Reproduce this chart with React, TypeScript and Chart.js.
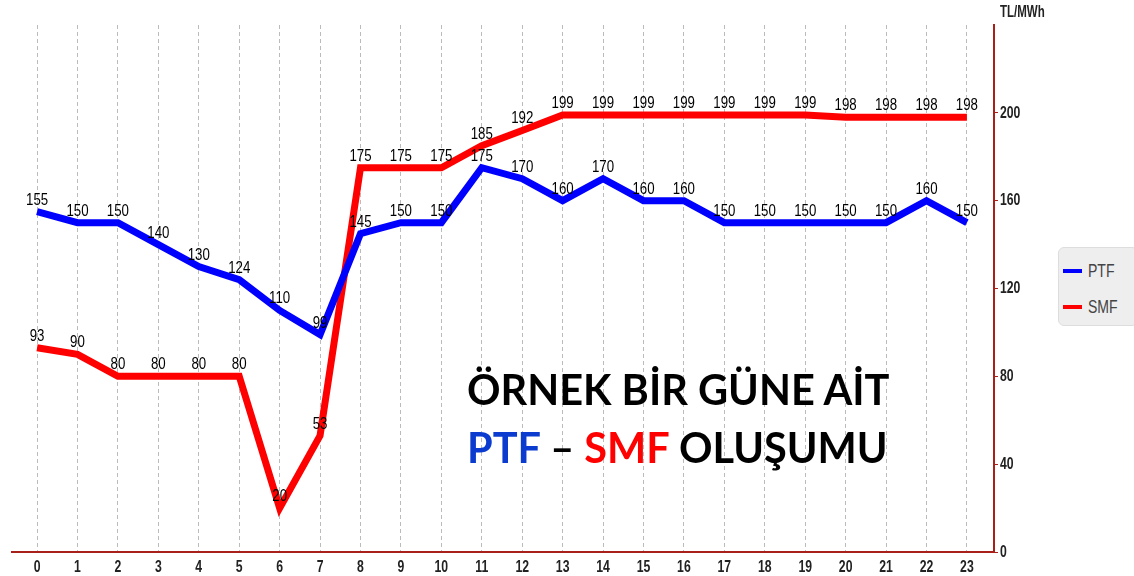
import React, { useEffect, useRef } from "react";
import { Chart, registerables } from "chart.js";

Chart.register(...registerables);

const hours = [0, 1, 2, 3, 4, 5, 6, 7, 8, 9, 10, 11, 12, 13, 14, 15, 16, 17, 18, 19, 20, 21, 22, 23];
const ptf = [155, 150, 150, 140, 130, 124, 110, 99, 145, 150, 150, 175, 170, 160, 170, 160, 160, 150, 150, 150, 150, 150, 160, 150];
const smf = [93, 90, 80, 80, 80, 80, 20, 53, 175, 175, 175, 185, 192, 199, 199, 199, 199, 199, 199, 199, 198, 198, 198, 198];
const yTicks = [0, 40, 80, 120, 160, 200];
const seriesNames = ["PTF", "SMF"];
const seriesColors = ["#0000ff", "#ff0000"];

const SANS = '"Liberation Sans", Arial, sans-serif';
const AXIS_RED = "#a8201a";

function narrowText(ctx: any, text: string, x: number, y: number, sx: number) {
  ctx.save();
  ctx.translate(x, y);
  ctx.scale(sx, 1);
  ctx.fillText(text, 0, 0);
  ctx.restore();
}

const labelPlugin = {
  id: "narrowLabels",
  afterDatasetsDraw(chart: any) {
    const ctx = chart.ctx;
    ctx.save();
    ctx.font = `17px ${SANS}`;
    ctx.fillStyle = "#000";
    ctx.strokeStyle = "#000";
    ctx.textAlign = "center";
    ctx.textBaseline = "alphabetic";
    chart.data.datasets.forEach((ds: any, di: number) => {
      const meta = chart.getDatasetMeta(di);
      meta.data.forEach((el: any, i: number) => {
        const v = ds.data[i].y;
        narrowText(ctx, String(v), el.x, el.y - 7, 0.78);
      });
    });
    ctx.restore();
  },
  afterDraw(chart: any) {
    const ctx = chart.ctx;
    const xs = chart.scales.x;
    const ys = chart.scales.y;
    ctx.save();
    ctx.font = `bold 17px ${SANS}`;
    ctx.fillStyle = "#222";
    ctx.textBaseline = "middle";
    ctx.textAlign = "center";
    hours.forEach((h) => {
      narrowText(ctx, String(h), xs.getPixelForValue(h), chart.chartArea.bottom + 15, 0.72);
    });
    ctx.textAlign = "left";
    yTicks.forEach((v) => {
      narrowText(ctx, String(v), chart.chartArea.right + 6, ys.getPixelForValue(v), 0.72);
    });
    ctx.restore();
  },
};

export default function App() {
  const ref = useRef<HTMLCanvasElement>(null);
  useEffect(() => {
    if (!ref.current) return;
    const chart = new Chart(ref.current, {
      type: "line",
      data: {
        datasets: [ptf, smf].map((arr, k) => ({
          label: seriesNames[k],
          data: hours.map((h, i) => ({ x: h, y: arr[i] })),
          borderColor: seriesColors[k],
          backgroundColor: seriesColors[k],
          borderWidth: 7,
          pointRadius: 0,
          tension: 0,
          fill: false,
        })),
      },
      options: {
        animation: false,
        responsive: false,
        maintainAspectRatio: false,
        layout: { padding: { left: 12, right: 95, top: 25, bottom: 0 } },
        plugins: { legend: { display: false }, tooltip: { enabled: false } },
        scales: {
          x: {
            type: "linear",
            min: -0.62,
            max: 23.67,
            afterBuildTicks: (s: any) => {
              s.ticks = hours.map((h) => ({ value: h }));
            },
            afterFit: (s: any) => {
              s.height = 24;
            },
            ticks: { display: false },
            grid: { color: "#bbbbbb", lineWidth: 1, drawTicks: false },
            border: { color: AXIS_RED, width: 2, dash: [4, 3] },
          },
          y: {
            position: "right",
            min: 0,
            max: 240,
            afterBuildTicks: (s: any) => {
              s.ticks = yTicks.map((v) => ({ value: v }));
            },
            afterFit: (s: any) => {
              s.width = 45;
            },
            ticks: { display: false },
            grid: { drawOnChartArea: false, drawTicks: true, tickLength: 4, tickColor: AXIS_RED, color: AXIS_RED },
            border: { color: AXIS_RED, width: 2 },
          },
        },
      },
      plugins: [labelPlugin],
    } as any);
    return () => chart.destroy();
  }, []);

  const bigText: React.CSSProperties = {
    position: "absolute",
    left: 467,
    fontFamily: "Lato, sans-serif",
    fontWeight: 700,
    fontSize: 41.5,
    lineHeight: "42px",
    whiteSpace: "nowrap",
    color: "#000",
  };

  const narrowSpan: React.CSSProperties = {
    display: "inline-block",
    transformOrigin: "left center",
    whiteSpace: "nowrap",
  };

  return (
    <div style={{ position: "fixed", left: 0, top: 0, width: 1134, height: 576, background: "#fff", overflow: "hidden" }}>
      <canvas ref={ref} width={1134} height={576} style={{ position: "absolute", left: 0, top: 0 }} />
      <div
        style={{
          ...narrowSpan,
          position: "absolute",
          left: 1000,
          top: 3,
          fontFamily: SANS,
          fontSize: 16,
          fontWeight: "bold",
          color: "#222",
          transform: "scaleX(0.72)",
        }}
      >
        TL/MWh
      </div>
      <div
        style={{
          position: "absolute",
          left: 1058,
          top: 247,
          width: 80,
          height: 79,
          background: "#eeeeee",
          border: "1px solid #dddddd",
          borderRadius: 6,
          boxSizing: "border-box",
        }}
      >
        {seriesNames.map((n, k) => (
          <div key={n} style={{ position: "absolute", left: 4, top: 13 + k * 36, height: 20, display: "flex", alignItems: "center" }}>
            <div style={{ width: 19, height: 4, background: seriesColors[k], marginRight: 6 }} />
            <span style={{ ...narrowSpan, fontFamily: SANS, fontSize: 18, color: "#444", transform: "scaleX(0.78)" }}>{n}</span>
          </div>
        ))}
      </div>
      <div style={{ ...bigText, top: 368 }}>ÖRNEK BİR GÜNE AİT</div>
      <div style={{ ...bigText, top: 426 }}>
        <span style={{ color: "#0b3ccf" }}>PTF</span> – <span style={{ color: "#ff0000" }}>SMF</span> OLUŞUMU
      </div>
    </div>
  );
}
